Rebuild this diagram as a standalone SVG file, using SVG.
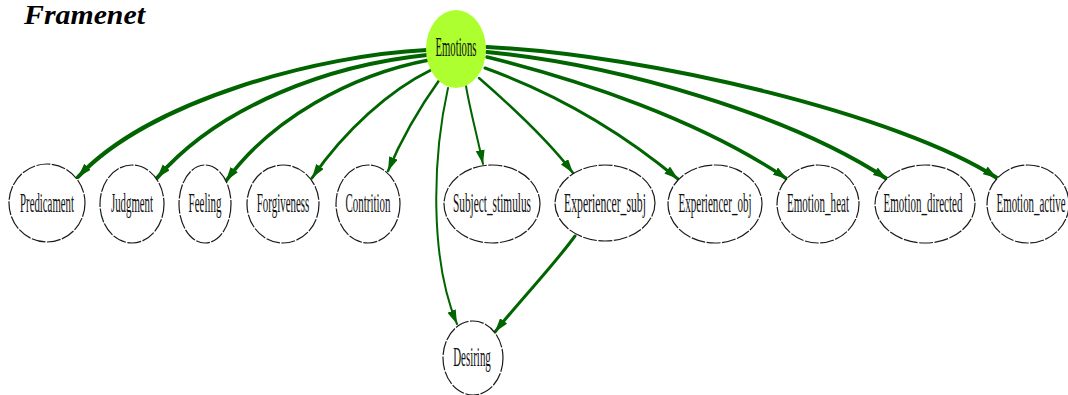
<svg xmlns="http://www.w3.org/2000/svg" width="1068" height="395" viewBox="0 0 1068 395">
  <style>
    .title { font-family: "Liberation Serif", "Times New Roman", serif; font-weight: bold; font-style: italic; font-size: 27px; fill: #000; }
    .node ellipse { fill: #ffffff; stroke: #1a1a1a; stroke-width: 1.2; stroke-dasharray: 14 1.5; }
    .node text { font-family: "Liberation Serif", "Times New Roman", serif; font-size: 27px; fill: #111; text-anchor: middle; }
    .root ellipse { fill: #adff2f; stroke: none; }
    .edge { fill: none; stroke: #006400; stroke-linecap: round; marker-end: url(#arrow); }
  </style>
  <defs>
    <marker id="arrow" markerUnits="userSpaceOnUse" markerWidth="16" markerHeight="10" refX="14" refY="4.5" orient="auto">
      <path d="M0,0 L14,4.5 L0,9 z" fill="#006400"/>
    </marker>
  </defs>

  <rect width="1068" height="395" fill="#ffffff"/>
  <text class="title" x="24" y="24" textLength="121" lengthAdjust="spacingAndGlyphs">Framenet</text>

  <g id="connectors">
    <path class="edge" stroke-width="4" d="M427,50 C320,55 150,100 78,177"/>
    <path class="edge" stroke-width="4" d="M427,55 C330,65 220,105 157,178"/>
    <path class="edge" stroke-width="3.5" d="M429,60 C350,75 270,120 226,181"/>
    <path class="edge" stroke-width="3" d="M431,70 C390,90 345,130 312,178"/>
    <path class="edge" stroke-width="2.5" d="M440,79 C425,100 405,130 388,171"/>
    <path class="edge" stroke-width="2" d="M448,88 C432,160 430,260 457,324"/>
    <path class="edge" stroke-width="2" d="M466,86 C470,110 477,135 483,164"/>
    <path class="edge" stroke-width="2.5" d="M479,78 C510,105 548,140 573,173"/>
    <path class="edge" stroke-width="3" d="M485,68 C560,95 625,135 678,179"/>
    <path class="edge" stroke-width="3.5" d="M487,57 C580,80 700,120 787,179"/>
    <path class="edge" stroke-width="4" d="M487,52 C620,65 790,115 887,179"/>
    <path class="edge" stroke-width="4" d="M487,47 C650,55 900,115 997,178"/>
    <path class="edge" stroke-width="3" d="M575,236 C550,270 520,300 495,332"/>
  </g>

  <!-- labels use a narrow horizontal scale to get the condensed look -->
  <g id="emotions" class="node root">
    <ellipse cx="456" cy="49" rx="30" ry="39"/>
    <text transform="translate(456,56) scale(0.395,1)">Emotions</text>
  </g>
  <g id="predicament" class="node">
    <ellipse cx="47" cy="203" rx="38" ry="39"/>
    <text transform="translate(47,212) scale(0.4,1)">Predicament</text>
  </g>
  <g id="judgment" class="node">
    <ellipse cx="132" cy="204" rx="32" ry="39"/>
    <text transform="translate(132,212) scale(0.4,1)">Judgment</text>
  </g>
  <g id="feeling" class="node">
    <ellipse cx="205" cy="204" rx="26" ry="39"/>
    <text transform="translate(205,212) scale(0.407,1)">Feeling</text>
  </g>
  <g id="forgiveness" class="node">
    <ellipse cx="283" cy="204" rx="36" ry="39"/>
    <text transform="translate(283,212) scale(0.405,1)">Forgiveness</text>
  </g>
  <g id="contrition" class="node">
    <ellipse cx="368" cy="204" rx="32" ry="39"/>
    <text transform="translate(368,212) scale(0.405,1)">Contrition</text>
  </g>
  <g id="subject_stimulus" class="node">
    <ellipse cx="492" cy="204" rx="48" ry="39"/>
    <text transform="translate(492,212) scale(0.42,1)">Subject_stimulus</text>
  </g>
  <g id="experiencer_subj" class="node">
    <ellipse cx="605" cy="203" rx="50" ry="38"/>
    <text transform="translate(605,212) scale(0.433,1)">Experiencer_subj</text>
  </g>
  <g id="experiencer_obj" class="node">
    <ellipse cx="715" cy="204" rx="47" ry="39"/>
    <text transform="translate(715,212) scale(0.41,1)">Experiencer_obj</text>
  </g>
  <g id="emotion_heat" class="node">
    <ellipse cx="818" cy="204" rx="41" ry="39"/>
    <text transform="translate(818,212) scale(0.41,1)">Emotion_heat</text>
  </g>
  <g id="emotion_directed" class="node">
    <ellipse cx="925" cy="204" rx="50" ry="39"/>
    <text transform="translate(923,212) scale(0.408,1)">Emotion_directed</text>
  </g>
  <g id="emotion_active" class="node">
    <ellipse cx="1028" cy="204" rx="41" ry="39"/>
    <text transform="translate(1031,212) scale(0.404,1)">Emotion_active</text>
  </g>
  <g id="desiring" class="node">
    <ellipse cx="473" cy="358" rx="30" ry="37"/>
    <text transform="translate(472,366) scale(0.405,1)">Desiring</text>
  </g>
</svg>
